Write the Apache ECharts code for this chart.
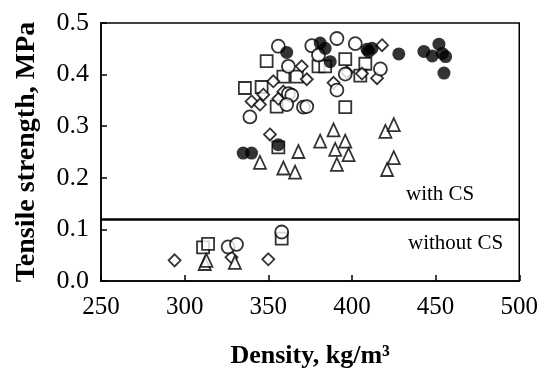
<!DOCTYPE html>
<html>
<head>
<meta charset="utf-8">
<script src="https://cdn.jsdelivr.net/npm/echarts@6/dist/echarts.min.js"></script>
<style>
  html, body { margin: 0; padding: 0; background: #fff; }
  #chart { width: 541px; height: 374px; }
</style>
</head>
<body>
<div id="chart"></div>
<script>
// [density kg/m3, tensile strength MPa]
var filledCircles = [
  [335, 0.248], [340, 0.248], [356, 0.264], [361, 0.443], [381, 0.461],
  [384, 0.451], [387, 0.425], [409, 0.449], [412, 0.451], [410, 0.445],
  [428, 0.440], [443, 0.445], [448, 0.436], [452, 0.459], [454, 0.441],
  [456, 0.435], [455, 0.403]
];
var openCircles = [
  [356, 0.455], [376, 0.456], [380, 0.438], [391, 0.470], [402, 0.460],
  [362, 0.416], [362, 0.363], [364, 0.360], [361, 0.342], [371, 0.337],
  [373, 0.338], [339, 0.318], [396, 0.401], [391, 0.370], [417, 0.411],
  [326, 0.066], [331, 0.071], [358, 0.095]
];
var squares = [
  [349, 0.426], [336, 0.374], [346, 0.376], [359, 0.396], [367, 0.396],
  [355, 0.338], [380, 0.416], [384, 0.416], [396, 0.430], [408, 0.421],
  [405, 0.398], [396, 0.337], [356, 0.259], [311, 0.065], [314, 0.072],
  [358, 0.082]
];
var diamonds = [
  [353, 0.387], [347, 0.361], [340, 0.348], [345, 0.342], [359, 0.367],
  [356, 0.353], [370, 0.416], [373, 0.391], [397, 0.405], [406, 0.402],
  [415, 0.393], [389, 0.384], [418, 0.457], [351, 0.284], [294, 0.040],
  [328, 0.046], [350, 0.042]
];
var triangles = [
  [345, 0.230], [359, 0.219], [366, 0.211], [368, 0.251], [381, 0.271],
  [389, 0.293], [396, 0.271], [390, 0.255], [398, 0.245], [391, 0.226],
  [420, 0.290], [425, 0.303], [425, 0.239], [421, 0.216], [312, 0.034],
  [313, 0.040], [330, 0.036]
];
var csBoundary = 0.12;

var serif = '"Liberation Serif", "Times New Roman", serif';

function openStyle() {
  return { color: '#fff', borderColor: '#000', borderWidth: 1.8 };
}

var chart = echarts.init(document.getElementById('chart'));
var option = {
  animation: false,
  backgroundColor: '#fff',
  grid: {
    left: 101, right: 21, top: 23, bottom: 92,
    show: true, borderColor: '#000', borderWidth: 1.5
  },
  xAxis: {
    type: 'value', min: 250, max: 500, interval: 50,
    name: 'Density, kg/m\u00b3', nameLocation: 'middle', nameGap: 62,
    nameTextStyle: { fontFamily: serif, fontWeight: 'bold', fontSize: 26, color: '#000' },
    axisLine: { lineStyle: { color: '#000', width: 1.5 } },
    axisTick: { inside: true, length: 6, lineStyle: { color: '#000', width: 1.5 } },
    axisLabel: { fontFamily: serif, fontSize: 25, color: '#000', margin: 14 },
    splitLine: { show: false }
  },
  yAxis: {
    type: 'value', min: 0, max: 0.5, interval: 0.1,
    name: 'Tensile strength, MPa', nameLocation: 'middle', nameGap: 60,
    nameTextStyle: { fontFamily: serif, fontWeight: 'bold', fontSize: 28, color: '#000' },
    axisLine: { lineStyle: { color: '#000', width: 1.5 } },
    axisTick: { inside: true, length: 6, lineStyle: { color: '#000', width: 1.5 } },
    axisLabel: {
      fontFamily: serif, fontSize: 26, color: '#000', margin: 12,
      formatter: function (v) { return v.toFixed(1); }
    },
    splitLine: { show: false }
  },
  graphic: [
    { type: 'text', left: 406, top: 184,
      style: { text: 'with CS', font: '21px ' + serif, fill: '#000' } },
    { type: 'text', left: 408, top: 233,
      style: { text: 'without CS', font: '21px ' + serif, fill: '#000' } }
  ],
  series: [
    {
      type: 'scatter', data: squares, symbol: 'rect', symbolSize: 12,
      itemStyle: openStyle(),
      markLine: {
        silent: true, symbol: 'none', label: { show: false },
        lineStyle: { color: '#000', width: 2.5, type: 'solid' },
        data: [{ yAxis: csBoundary }]
      }
    },
    { type: 'scatter', data: diamonds, symbol: 'diamond', symbolSize: 12, itemStyle: openStyle() },
    { type: 'scatter', data: triangles, symbol: 'triangle', symbolSize: [12, 13], itemStyle: openStyle() },
    { type: 'scatter', data: openCircles, symbol: 'circle', symbolSize: 13, itemStyle: openStyle() },
    { type: 'scatter', data: filledCircles, symbol: 'circle', symbolSize: 13,
      itemStyle: { color: '#000', borderColor: '#000', borderWidth: 0 } }
  ]
};
chart.setOption(option);
</script>
</body>
</html>
